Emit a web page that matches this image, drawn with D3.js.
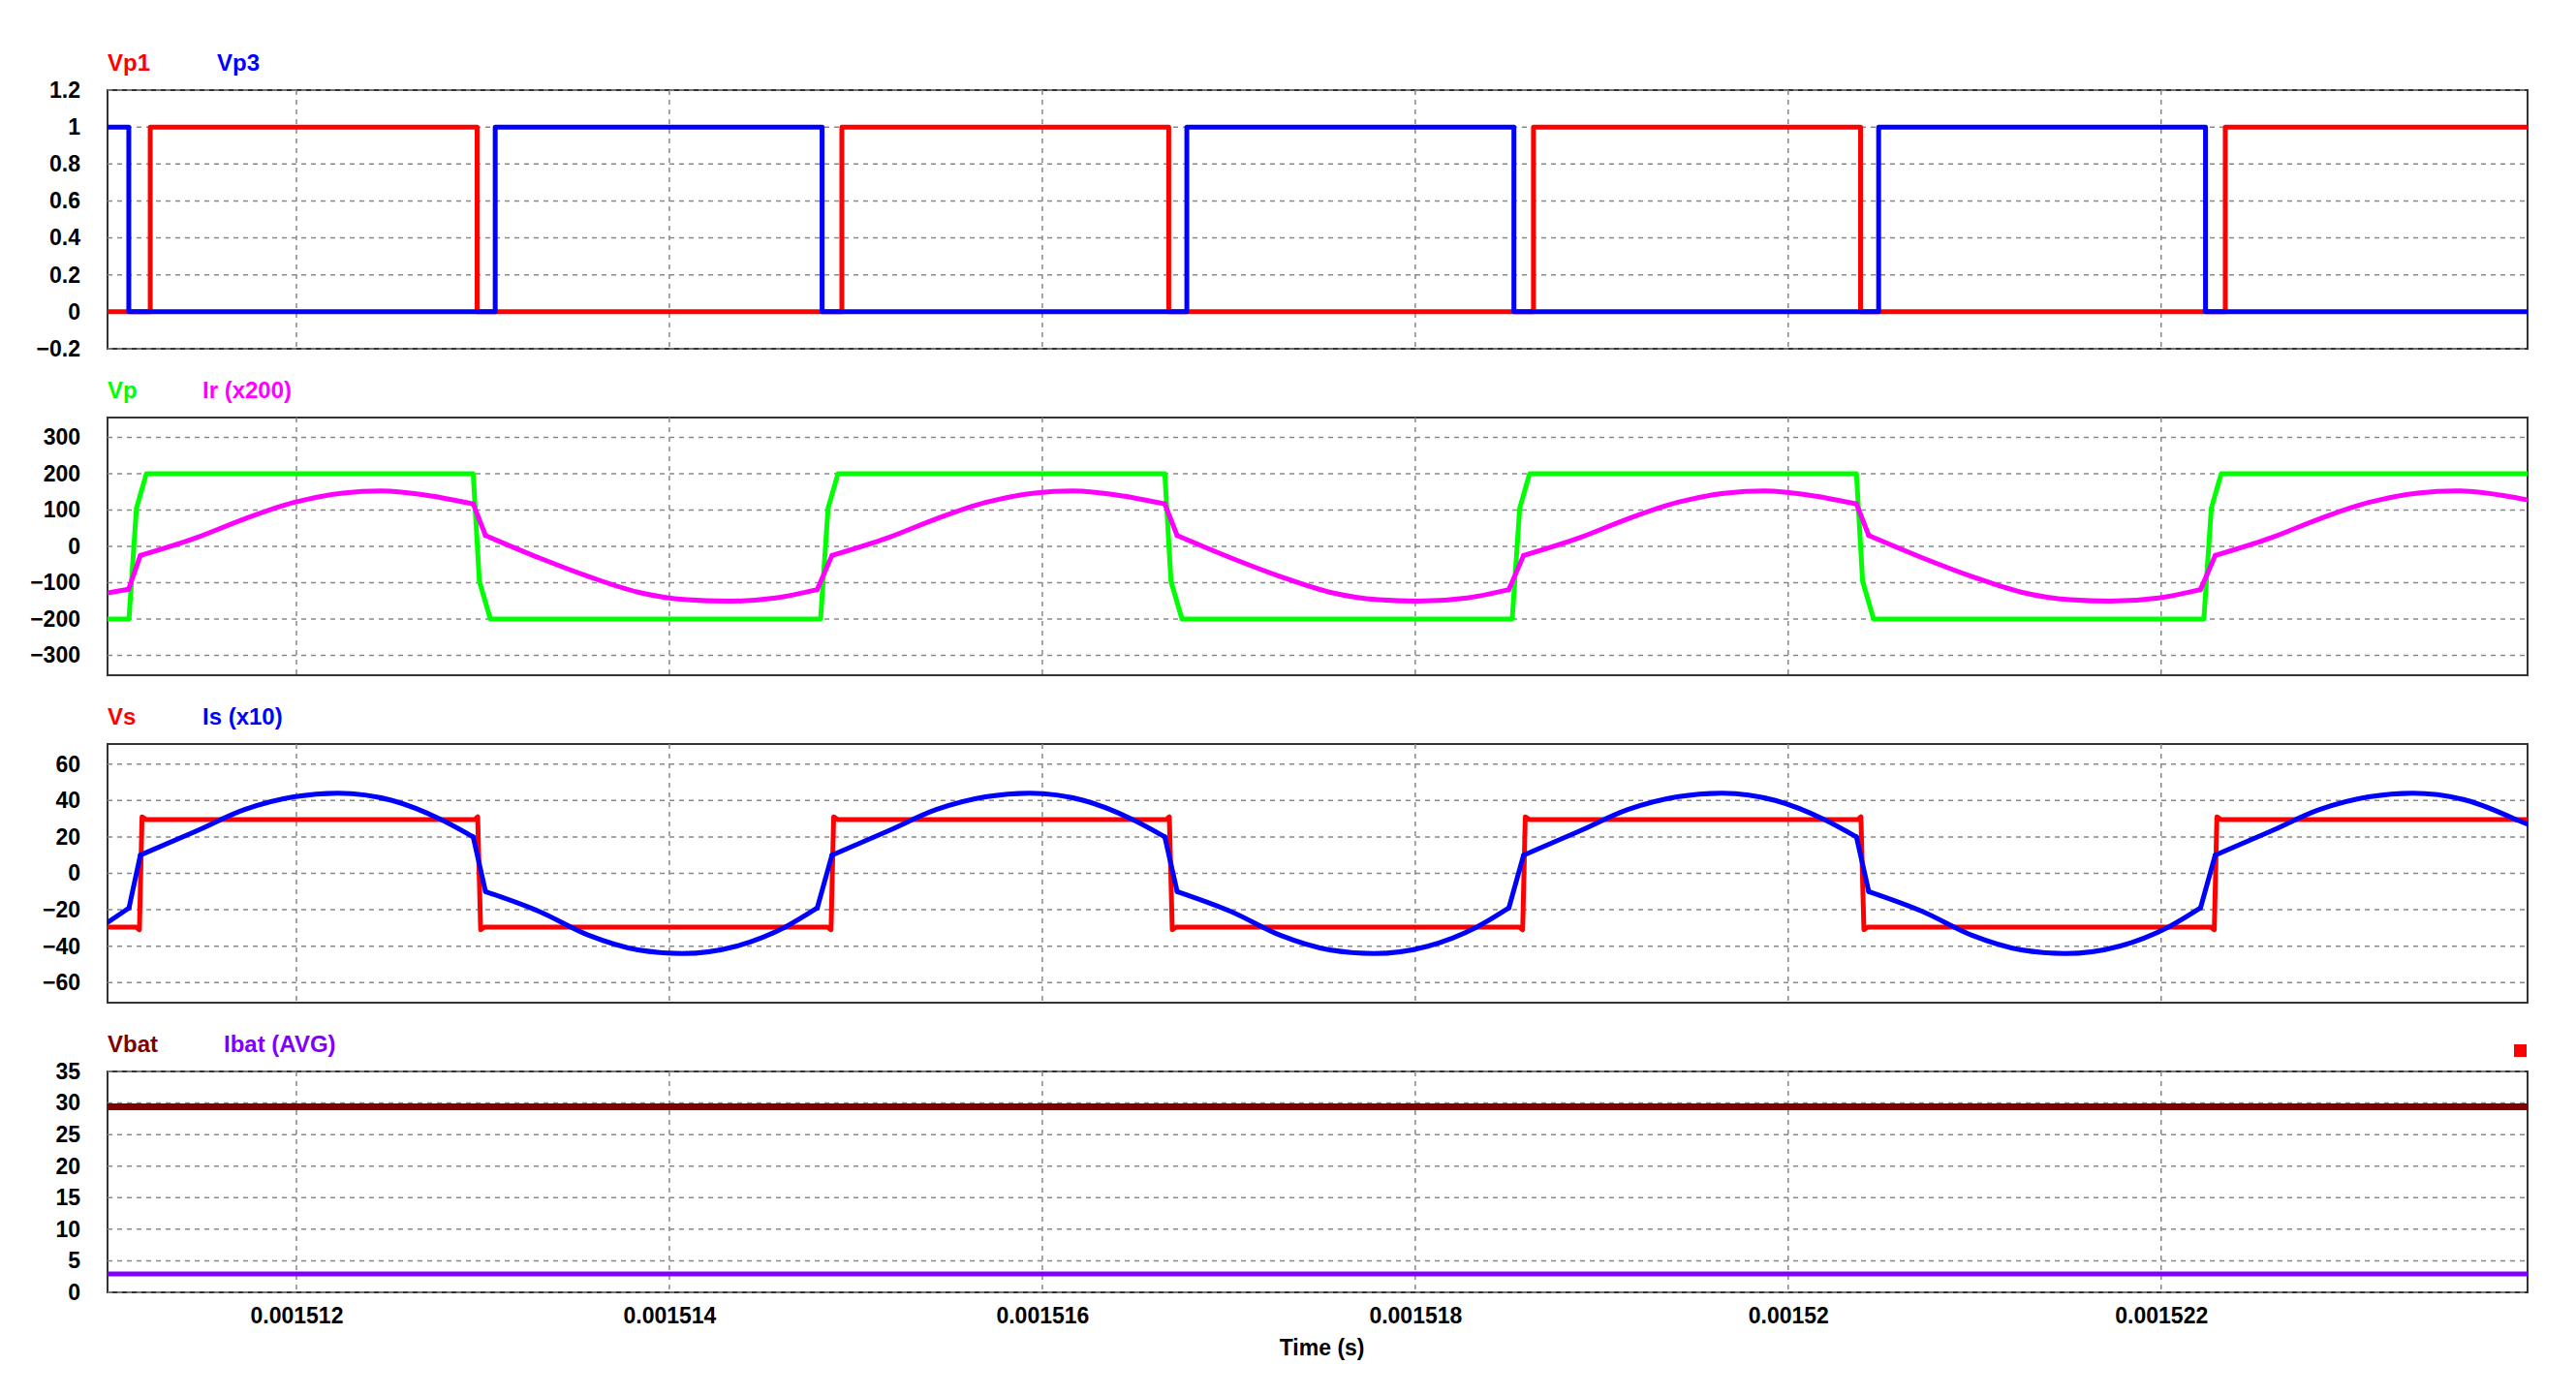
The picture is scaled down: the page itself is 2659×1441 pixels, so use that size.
<!DOCTYPE html>
<html>
<head>
<meta charset="utf-8">
<script src="https://cdn.jsdelivr.net/npm/d3@7"></script>
<style>
  body { margin: 0; background: #fff; }
  text { font-family: "Liberation Sans", Arial, sans-serif; font-weight: bold; }
</style>
</head>
<body>
<svg id="chart"></svg>
<script>
// time in microseconds
const timeDomain = [1510.987, 1523.965];
const timeTicks = [1512, 1514, 1516, 1518, 1520, 1522];
const timeTickLabels = ["0.001512", "0.001514", "0.001516", "0.001518", "0.00152", "0.001522"];

// gate signals (step after)
const vp1 = [[1510.987,0],[1511.216,1],[1512.969,0],[1514.925,1],[1516.678,0],[1518.634,1],[1520.388,0],[1522.344,1],[1523.965,1]];
const vp3 = [[1510.987,1],[1511.101,0],[1513.066,1],[1514.819,0],[1516.775,1],[1518.529,0],[1520.485,1],[1522.238,0],[1523.965,0]];

// primary voltage
const vp = [[1510.987,-200],
  [1511.102,-200],[1511.142,105],[1511.195,200],[1512.948,200],[1512.981,-96],[1513.040,-200],
  [1514.811,-200],[1514.851,105],[1514.904,200],[1516.657,200],[1516.690,-96],[1516.749,-200],
  [1518.520,-200],[1518.560,105],[1518.613,200],[1520.366,200],[1520.399,-96],[1520.458,-200],
  [1522.229,-200],[1522.269,105],[1522.322,200],[1523.965,200]];

// resonant current x200
const ir = [[1510.987,-128],[1511.100,-118],
  [1511.163,-25],[1511.458,23],[1511.722,76],[1511.986,121],[1512.249,147],[1512.455,153],[1512.723,139],[1512.948,117],
  [1513.014,30],[1513.304,-32],[1513.567,-83],[1513.831,-126],[1514.094,-147],[1514.306,-151],[1514.569,-142],[1514.793,-119],
  [1514.872,-25],[1515.167,23],[1515.431,76],[1515.695,121],[1515.958,147],[1516.164,153],[1516.432,139],[1516.657,117],
  [1516.723,30],[1517.013,-32],[1517.276,-83],[1517.540,-126],[1517.803,-147],[1518.015,-151],[1518.278,-142],[1518.502,-119],
  [1518.581,-25],[1518.876,23],[1519.140,76],[1519.404,121],[1519.667,147],[1519.873,153],[1520.141,139],[1520.366,117],
  [1520.432,30],[1520.722,-32],[1520.985,-83],[1521.249,-126],[1521.512,-147],[1521.724,-151],[1521.987,-142],[1522.211,-119],
  [1522.290,-25],[1522.585,23],[1522.849,76],[1523.113,121],[1523.376,147],[1523.582,153],[1523.850,139],[1523.965,128]];

// secondary voltage
const vs = [[1510.987,-29.5],
  [1511.140,-29.5],[1511.158,-31],[1511.172,31],[1511.195,29.5],[1512.955,29.5],[1512.972,31],[1512.988,-31],[1513.008,-29.5],
  [1514.849,-29.5],[1514.867,-31],[1514.881,31],[1514.904,29.5],[1516.664,29.5],[1516.681,31],[1516.697,-31],[1516.717,-29.5],
  [1518.558,-29.5],[1518.576,-31],[1518.590,31],[1518.613,29.5],[1520.373,29.5],[1520.390,31],[1520.406,-31],[1520.426,-29.5],
  [1522.267,-29.5],[1522.285,-31],[1522.299,31],[1522.322,29.5],[1523.965,29.5]];

// secondary current x10
const is = [[1510.987,-27],[1511.102,-19],
  [1511.163,10],[1511.458,23],[1511.722,35],[1511.986,42],[1512.223,44],[1512.513,40],[1512.776,29.5],[1512.948,20],
  [1513.014,-10],[1513.304,-21],[1513.567,-34],[1513.831,-42],[1514.068,-44],[1514.358,-40],[1514.621,-29.5],[1514.793,-19],
  [1514.872,10],[1515.167,23],[1515.431,35],[1515.695,42],[1515.932,44],[1516.222,40],[1516.485,29.5],[1516.657,20],
  [1516.723,-10],[1517.013,-21],[1517.276,-34],[1517.540,-42],[1517.777,-44],[1518.067,-40],[1518.330,-29.5],[1518.502,-19],
  [1518.581,10],[1518.876,23],[1519.140,35],[1519.404,42],[1519.641,44],[1519.931,40],[1520.194,29.5],[1520.366,20],
  [1520.432,-10],[1520.722,-21],[1520.985,-34],[1521.249,-42],[1521.486,-44],[1521.776,-40],[1522.039,-29.5],[1522.211,-19],
  [1522.290,10],[1522.585,23],[1522.849,35],[1523.113,42],[1523.350,44],[1523.640,40],[1523.903,29.5],[1523.965,27]];

// battery
const vbat = [[1510.987,29.4],[1523.965,29.4]];
const ibat = [[1510.987,2.9],[1523.965,2.9]];

const panels = [
  { top: 93,  bottom: 360,  domain: [-0.2, 1.2], ticks: [-0.2,0,0.2,0.4,0.6,0.8,1,1.2],
    labels: [{t:"Vp1", x:111, c:"#ff0000"}, {t:"Vp3", x:224, c:"#0000ff"}],
    series: [{d:vp1, c:"#ff0000", step:true}, {d:vp3, c:"#0000ff", step:true}] },
  { top: 431, bottom: 697, domain: [-355, 355], ticks: [-300,-200,-100,0,100,200,300],
    labels: [{t:"Vp", x:111, c:"#00ff00"}, {t:"Ir (x200)", x:209, c:"#ff00ff"}],
    series: [{d:vp, c:"#00ff00"}, {d:ir, c:"#ff00ff", smooth:true}] },
  { top: 768, bottom: 1035, domain: [-71, 71], ticks: [-60,-40,-20,0,20,40,60],
    labels: [{t:"Vs", x:111, c:"#ff0000"}, {t:"Is (x10)", x:209, c:"#0000ff"}],
    series: [{d:vs, c:"#ff0000"}, {d:is, c:"#0000ff", smooth:true}] },
  { top: 1106, bottom: 1334, domain: [0, 35], ticks: [0,5,10,15,20,25,30,35],
    labels: [{t:"Vbat", x:111, c:"#800000"}, {t:"Ibat (AVG)", x:231, c:"#8000ff"}],
    series: [{d:vbat, c:"#800000", w:7}, {d:ibat, c:"#8000ff"}] }
];

const W = 2659, H = 1441, left = 111, right = 2609;
const svg = d3.select("#chart").attr("width", W).attr("height", H);

const x = d3.scaleLinear().domain(timeDomain).range([left, right]);

// split a series into smooth arcs and short switching jumps
function splitRuns(data) {
  const arcs = [], jumps = [];
  let cur = [data[0]];
  for (let k = 1; k < data.length; k++) {
    if (data[k][0] - data[k-1][0] < 0.1) {
      jumps.push([data[k-1], data[k]]);
      if (cur.length > 1) arcs.push(cur);
      cur = [data[k]];
    } else {
      cur.push(data[k]);
    }
  }
  if (cur.length > 1) arcs.push(cur);
  return arcs.concat(jumps);
}

panels.forEach(function(p, i) {
  const y = d3.scaleLinear().domain(p.domain).range([p.bottom, p.top]);
  const g = svg.append("g");

  g.append("clipPath").attr("id", "clip" + i)
    .append("rect").attr("x", left).attr("y", p.top - 4)
    .attr("width", right - left).attr("height", p.bottom - p.top + 8);

  g.append("rect").attr("x", left).attr("y", p.top)
    .attr("width", right - left).attr("height", p.bottom - p.top)
    .attr("fill", "none").attr("stroke", "#333").attr("stroke-width", 2);

  // grid
  g.selectAll(".hg").data(p.ticks).enter().append("line")
    .attr("x1", left).attr("x2", right)
    .attr("y1", d => y(d)).attr("y2", d => y(d))
    .attr("stroke", "#888").attr("stroke-width", 1.5).attr("stroke-dasharray", "5,5");
  g.selectAll(".vg").data(timeTicks).enter().append("line")
    .attr("x1", d => x(d)).attr("x2", d => x(d))
    .attr("y1", p.top).attr("y2", p.bottom)
    .attr("stroke", "#888").attr("stroke-width", 1.5).attr("stroke-dasharray", "5,5");

  // y axis labels
  const ax = g.append("g").attr("transform", "translate(" + left + ",0)")
    .call(d3.axisLeft(y).tickValues(p.ticks).tickSize(0).tickPadding(28).tickFormat(d3.format("")));
  ax.select(".domain").remove();
  ax.selectAll("text").attr("font-size", 23).attr("fill", "#000")
    .style("font-family", "'Liberation Sans', Arial, sans-serif").style("font-weight", "bold");

  // legend labels
  g.selectAll(".lab").data(p.labels).enter().append("text")
    .attr("x", d => d.x).attr("y", p.top - 20)
    .attr("font-size", 24).attr("fill", d => d.c).text(d => d.t);

  p.series.forEach(function(s) {
    const line = d3.line().x(d => x(d[0])).y(d => y(d[1]))
      .curve(s.step ? d3.curveStepAfter : (s.smooth ? d3.curveMonotoneX : d3.curveLinear));
    const parts = s.smooth ? splitRuns(s.d) : [s.d];
    g.selectAll(null).data(parts).enter().append("path").attr("d", line)
      .attr("clip-path", "url(#clip" + i + ")")
      .attr("fill", "none").attr("stroke", s.c).attr("stroke-width", s.w || 5)
      .attr("stroke-linejoin", "round").attr("stroke-linecap", "round");
  });

  if (i === panels.length - 1) {
    const xa = g.append("g").attr("transform", "translate(0," + p.bottom + ")")
      .call(d3.axisBottom(x).tickValues(timeTicks).tickSize(0).tickPadding(16)
        .tickFormat((d, k) => timeTickLabels[k]));
    xa.select(".domain").remove();
    xa.selectAll("text").attr("font-size", 23).attr("fill", "#000")
      .style("font-family", "'Liberation Sans', Arial, sans-serif").style("font-weight", "bold");
    svg.append("text").attr("x", x(1517.5)).attr("y", 1399).attr("text-anchor", "middle")
      .attr("font-size", 23).text("Time (s)");
    svg.append("rect").attr("x", 2595).attr("y", 1078).attr("width", 13).attr("height", 13).attr("fill", "#ff0000");
  }
});
</script>
</body>
</html>
